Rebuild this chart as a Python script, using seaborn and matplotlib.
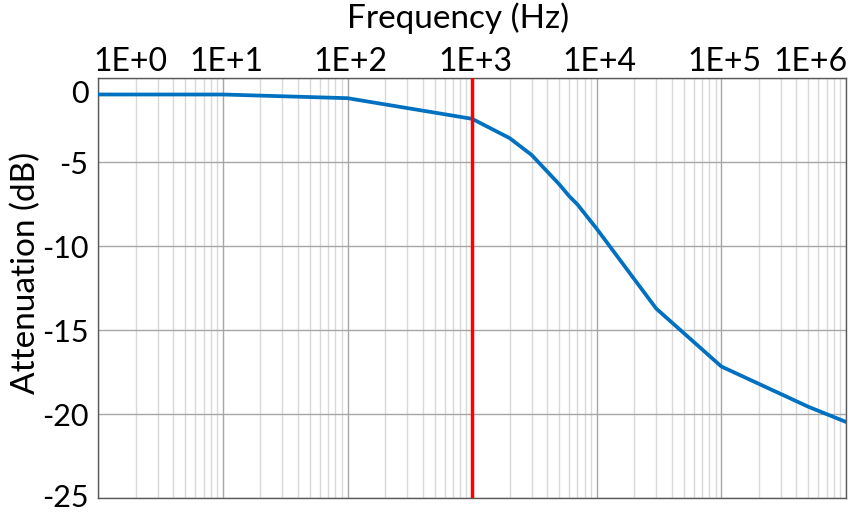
import matplotlib
matplotlib.use("Agg")
import matplotlib.pyplot as plt
import matplotlib.transforms as mtransforms
from matplotlib.ticker import LogLocator, NullFormatter
import numpy as np
import pandas as pd
import seaborn as sns

# Filter response: frequency (Hz) vs attenuation (dB)
freq_hz = [1, 10, 100, 1000, 2000, 3000, 5000, 6000, 7000, 10000,
           20000, 30000, 100000, 500000, 1000000]
atten_db = [-1.0, -1.0, -1.22, -2.45, -3.6, -4.6, -6.35, -7.05, -7.55, -9.0,
            -12.0, -13.75, -17.2, -19.6, -20.5]
cutoff_hz = 1000

x_tick_vals = [1, 10, 100, 1000, 10000, 100000, 1000000]
x_tick_labels = ["1E+0", "1E+1", "1E+2", "1E+3", "1E+4", "1E+5", "1E+6"]
y_tick_vals = [0, -5, -10, -15, -20, -25]
y_tick_labels = ["0", "-5", "-10", "-15", "-20", "-25"]

sns.set_style("white")
plt.rcParams["font.family"] = ["Lato", "DejaVu Sans"]

df = pd.DataFrame({"Frequency": freq_hz, "Attenuation": atten_db})

fig = plt.figure(figsize=(8.62, 5.13), dpi=100)
ax = fig.add_axes([98.3 / 862, 1 - 497.5 / 513, (846 - 98.3) / 862, (497.5 - 77.7) / 513])

ax.set_xscale("log")
ax.set_xlim(1, 1e6)
ax.set_ylim(-25, 0)

# grid: decades and horizontal lines darker, in-decade lines lighter
ax.xaxis.set_major_locator(LogLocator(base=10, numticks=20))
ax.xaxis.set_minor_locator(LogLocator(base=10, subs=np.arange(2, 10), numticks=100))
ax.xaxis.set_minor_formatter(NullFormatter())
ax.set_xticks(x_tick_vals)
ax.set_yticks(y_tick_vals)
ax.grid(which="major", axis="both", color="#a6a6a6", linewidth=1.0)
ax.grid(which="minor", axis="x", color="#d9d9d9", linewidth=1.0)
ax.set_axisbelow(True)
ax.tick_params(which="both", length=0, labelbottom=False, labelleft=False)

for side in ["left", "bottom", "top", "right"]:
    ax.spines[side].set_visible(True)
    ax.spines[side].set_color("#595959")
    ax.spines[side].set_linewidth(1.0)

sns.lineplot(data=df, x="Frequency", y="Attenuation", ax=ax,
             color="#0070c0", linewidth=2.7, zorder=3)
ax.axvline(cutoff_hz, color="#ff0000", linewidth=2.5, zorder=4)

ax.set_xlabel("")
ax.set_ylabel("")

# tick labels along the top edge
xtrans = mtransforms.blended_transform_factory(ax.transData, ax.transAxes)
for i, (v, lab) in enumerate(zip(x_tick_vals, x_tick_labels)):
    if i == 0:
        ha, dx = "left", -5
    elif i == len(x_tick_vals) - 1:
        ha, dx = "right", 2
    else:
        ha, dx = "center", 3
    off = mtransforms.ScaledTranslation(dx / 100, 1 / 100, fig.dpi_scale_trans)
    ax.text(v, 1.0, lab, transform=xtrans + off, ha=ha, va="bottom",
            fontsize=23, color="black")

# value labels down the left edge
ytrans = mtransforms.blended_transform_factory(ax.transAxes, ax.transData)
for v, lab in zip(y_tick_vals, y_tick_labels):
    if v == 0:
        va, dy = "top", -2
    elif v == -25:
        va, dy = "bottom", -14
    else:
        va, dy = "center", -3
    off = mtransforms.ScaledTranslation(-10 / 100, dy / 100, fig.dpi_scale_trans)
    ax.text(0, v, lab, transform=ytrans + off, ha="right", va=va,
            fontsize=22, color="black")

fig.text(458 / 862, 1 - 18 / 513, "Frequency (Hz)", ha="center", va="center",
         fontsize=24, color="black")
fig.text(26 / 862, 1 - 273 / 513, "Attenuation (dB)", ha="center", va="center",
         rotation=90, fontsize=24, color="black")

fig.savefig("out.png", dpi=100)
